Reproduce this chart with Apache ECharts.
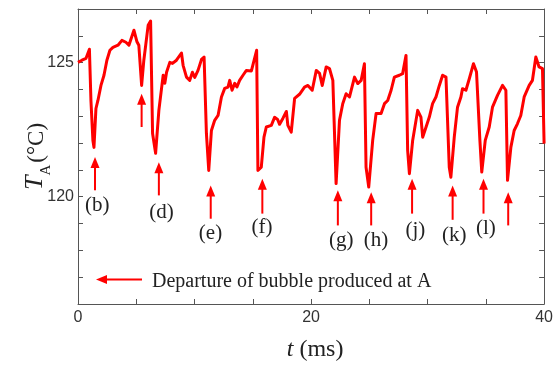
<!DOCTYPE html>
<html>
<head>
<meta charset="utf-8">
<script src="https://cdn.jsdelivr.net/npm/echarts@6/dist/echarts.min.js"></script>
<style>
  html, body { margin: 0; padding: 0; background: #ffffff; }
  #chart { width: 556px; height: 367px; }
</style>
</head>
<body>
<div id="chart"></div>
<script>
// Wall temperature T_A at site A versus time
const timeMs = [
  0.00, 0.34, 0.69, 0.98, 1.11, 1.28, 1.37, 1.54, 1.71, 1.97, 2.23, 2.48, 2.74, 3.00, 3.43, 3.77,
  4.11, 4.37, 4.80, 5.05, 5.22, 5.46, 5.65, 6.02, 6.23, 6.40, 6.66, 6.94, 7.17, 7.31, 7.45, 7.60,
  7.88, 8.11, 8.45, 8.88, 9.02, 9.31, 9.59, 9.82, 10.02, 10.30, 10.60, 10.82, 11.02, 11.22, 11.45,
  11.73, 12.02, 12.31, 12.59, 12.87, 13.02, 13.22, 13.45, 13.64, 13.87, 14.16, 14.45, 14.88, 15.33,
  15.44, 15.59, 15.73, 15.96, 16.16, 16.59, 16.87, 17.13, 17.30, 17.58, 17.88, 18.01, 18.30, 18.59,
  19.01, 19.44, 19.73, 20.10, 20.45, 20.73, 20.96, 21.30, 21.58, 21.87, 22.15, 22.44, 22.72, 23.01,
  23.30, 23.73, 24.01, 24.30, 24.58, 24.72, 24.95, 25.29, 25.58, 26.01, 26.30, 26.58, 26.87, 27.15,
  27.58, 27.86, 28.15, 28.29, 28.44, 28.72, 29.15, 29.43, 29.58, 29.87, 30.15, 30.43, 30.72, 31.01,
  31.29, 31.58, 31.86, 32.00, 32.29, 32.57, 32.86, 33.00, 33.29, 33.58, 33.94, 34.20, 34.37, 34.49,
  34.65, 34.95, 35.29, 35.57, 36.00, 36.43, 36.72, 36.86, 37.15, 37.43, 37.71, 38.00, 38.29, 38.72,
  39.00, 39.29, 39.57, 39.86, 40.00
];
const tempA = [
  125.01, 125.09, 125.16, 125.50, 123.59, 122.10, 121.84, 123.29, 123.59, 124.15, 124.53, 125.09, 125.46, 125.57, 125.65, 125.83,
  125.76, 125.65, 126.21, 125.79, 125.65, 124.15, 125.09, 126.39, 126.55, 122.36, 121.62, 123.22, 124.04, 124.53, 124.23, 124.64,
  125.01, 124.97, 125.09, 125.36, 124.90, 124.46, 124.34, 124.64, 124.45, 124.71, 125.12, 125.21, 122.36, 120.98, 122.47,
  122.85, 123.03, 123.72, 124.04, 124.09, 124.34, 123.97, 124.23, 124.09, 124.34, 124.53, 124.71, 124.69, 125.46,
  120.98, 120.92, 121.10, 122.22, 122.60, 122.66, 122.96, 122.88, 122.70, 122.92, 123.18, 122.66, 122.41, 123.67,
  123.82, 124.09, 124.15, 123.97, 124.71, 124.60, 124.15, 124.84, 124.78, 124.34, 120.49, 122.85, 123.47, 123.84,
  123.72, 124.46, 124.22, 124.34, 124.96, 121.10, 120.36, 122.10, 123.10, 123.10, 123.47, 123.59, 123.97, 124.46,
  124.53, 124.59, 125.27, 121.73, 120.86, 122.10, 123.22, 122.97, 122.22, 122.60, 122.97, 123.47, 123.72, 124.15,
  124.53, 124.46, 121.10, 120.73, 122.22, 123.34, 123.72, 124.03, 123.97, 124.40, 124.96, 124.65, 124.71, 122.10,
  120.92, 122.10, 122.60, 123.34, 123.78, 124.15, 123.97, 120.61, 121.85, 122.47, 122.72, 123.03, 123.72, 124.15,
  124.34, 125.21, 124.84, 124.78, 121.98
];

// Departure markers: time, arrow tip and tail temperatures, and captions
const arrowT    = [1.46, 5.46, 6.94, 11.39, 15.82, 22.30, 25.16, 28.67, 32.15, 34.80, 36.92];
const arrowTip  = [121.48, 123.84, 121.29, 120.42, 120.67, 120.24, 120.17, 120.67, 120.42, 120.67, 120.17];
const arrowTail = [120.24, 122.60, 120.05, 119.18, 119.37, 118.93, 118.93, 119.37, 119.14, 119.37, 118.93];
const captionText = ['(b)', '(d)', '(e)', '(f)', '(g)', '(h)', '(j)', '(k)', '(l)'];
const captionT    = [1.66, 7.17, 11.37, 15.79, 22.59, 25.58, 28.95, 32.29, 35.01];
const captionTemp = [119.68, 119.43, 118.64, 118.84, 118.37, 118.37, 118.74, 118.55, 118.81];

const xLabeled = [0, 20, 40];
const yLabeled = [120, 125];

const RED = '#ff0000';
const AXIS = '#555555';
const SERIF = '"Liberation Serif", "Times New Roman", serif';
const SANS = '"Liberation Sans", Arial, sans-serif';

const chart = echarts.init(document.getElementById('chart'), null, { renderer: 'canvas' });

function axisBase(extra) {
  return Object.assign({
    axisLine: { show: true, onZero: false, lineStyle: { color: AXIS, width: 1 } },
    axisTick: { show: true, inside: true, length: 5, lineStyle: { color: AXIS, width: 1 } },
    splitLine: { show: false },
    minorTick: { show: false }
  }, extra);
}

const option = {
  animation: false,
  backgroundColor: '#ffffff',
  grid: { left: 78, right: 11, top: 9, bottom: 63, containLabel: false },
  xAxis: [
    axisBase({
      type: 'value', position: 'bottom', min: 0, max: 40, interval: 5,
      axisLabel: {
        margin: 6, color: '#333333', fontFamily: SANS, fontSize: 16,
        formatter: v => (xLabeled.indexOf(v) >= 0 ? String(v) : '')
      },
      name: '{i|t} (ms)', nameLocation: 'middle', nameGap: 34,
      nameTextStyle: {
        fontFamily: SERIF, fontSize: 24, color: '#222222', padding: [0, 0, 0, 8],
        rich: { i: { fontFamily: SERIF, fontSize: 24, fontStyle: 'italic', color: '#222222' } }
      }
    }),
    axisBase({
      type: 'value', position: 'top', min: 0, max: 40, interval: 5,
      axisLabel: { show: false }
    })
  ],
  yAxis: [
    axisBase({
      type: 'value', position: 'left', min: 116, max: 127, interval: 1,
      axisLabel: {
        margin: 4, color: '#333333', fontFamily: SANS, fontSize: 16,
        formatter: v => (yLabeled.indexOf(v) >= 0 ? String(v) : '')
      },
      name: '{t|T}{s|A}{u|(°C)}', nameLocation: 'middle', nameGap: 30, nameRotate: 90,
      nameMoveOverlap: false,
      nameTextStyle: {
        color: '#222222',
        rich: {
          t: { fontFamily: SERIF, fontSize: 26, fontStyle: 'italic', color: '#222222', verticalAlign: 'bottom', lineHeight: 30 },
          s: { fontFamily: SERIF, fontSize: 15, color: '#222222', verticalAlign: 'bottom', lineHeight: 30, padding: [0, 2, -6, 0] },
          u: { fontFamily: SERIF, fontSize: 23, color: '#222222', verticalAlign: 'bottom', lineHeight: 30 }
        }
      }
    }),
    axisBase({
      type: 'value', position: 'right', min: 116, max: 127, interval: 1,
      axisLabel: { show: false }
    })
  ],
  series: [
    {
      name: 'T_A',
      type: 'line',
      data: timeMs.map((t, i) => [t, tempA[i]]),
      showSymbol: false,
      smooth: false,
      lineStyle: { color: RED, width: 3, join: 'round' },
      z: 3
    },
    {
      name: 'departure arrows',
      type: 'custom',
      data: arrowT.map((t, i) => [t, arrowTip[i], arrowTail[i]]),
      renderItem: function (params, api) {
        const tip = api.coord([api.value(0), api.value(1)]);
        const tail = api.coord([api.value(0), api.value(2)]);
        const head = 11, half = 4.5;
        return {
          type: 'group',
          children: [
            {
              type: 'line',
              shape: { x1: tail[0], y1: tail[1], x2: tip[0], y2: tip[1] + head - 1 },
              style: { stroke: RED, lineWidth: 2 }
            },
            {
              type: 'polygon',
              shape: { points: [[tip[0], tip[1]], [tip[0] - half, tip[1] + head], [tip[0] + half, tip[1] + head]] },
              style: { fill: RED }
            }
          ]
        };
      },
      z: 4
    },
    {
      name: 'captions',
      type: 'custom',
      data: captionT.map((t, i) => [t, captionTemp[i], i]),
      renderItem: function (params, api) {
        const p = api.coord([api.value(0), api.value(1)]);
        return {
          type: 'text',
          style: {
            text: captionText[api.value(2)],
            x: p[0], y: p[1],
            align: 'center', verticalAlign: 'middle',
            font: '21px ' + SERIF,
            fill: '#222222'
          }
        };
      },
      z: 4
    }
  ],
  graphic: [
    {
      type: 'group', left: 96, top: 275,
      children: [
        { type: 'line', shape: { x1: 10, y1: 8, x2: 46, y2: 8 }, style: { stroke: RED, lineWidth: 2 } },
        { type: 'polygon', shape: { points: [[0, 8], [11, 3.5], [11, 12.5]] }, style: { fill: RED } }
      ]
    },
    {
      type: 'text', left: 152, top: 272,
      style: { text: 'Departure of bubble produced at A', font: '20px ' + SERIF, fill: '#222222' }
    }
  ]
};

chart.setOption(option);
</script>
</body>
</html>
